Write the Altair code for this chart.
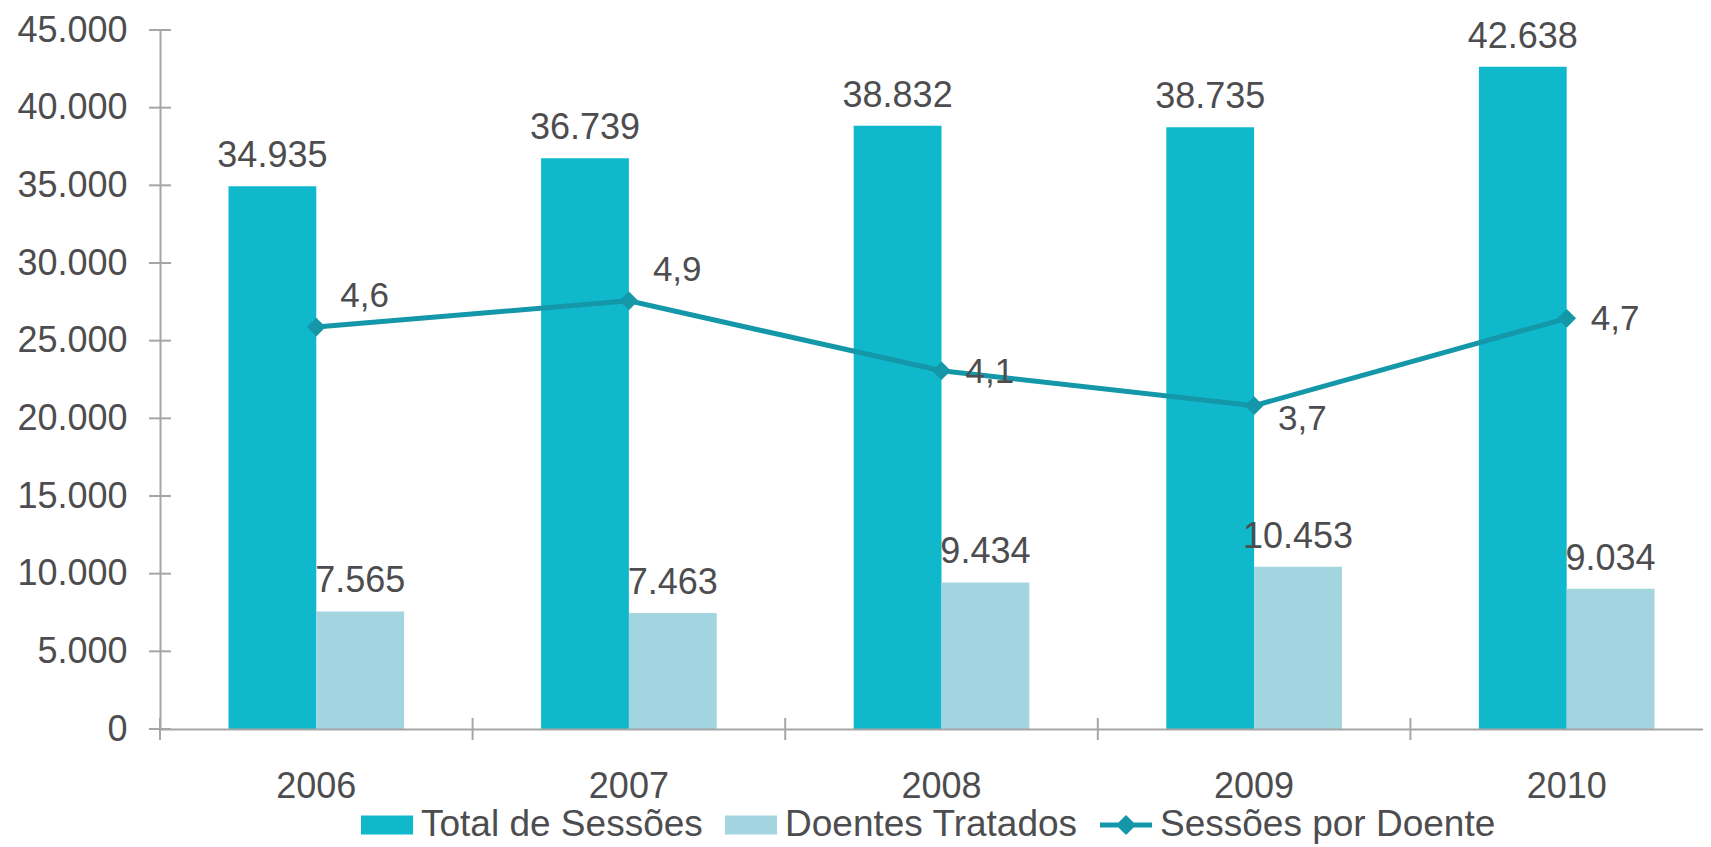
import altair as alt
import pandas as pd

# ---- data ----
years = ["2006", "2007", "2008", "2009", "2010"]
total_sessoes = [34935, 36739, 38832, 38735, 42638]
doentes_tratados = [7565, 7463, 9434, 10453, 9034]
sessoes_por_doente = [4.6, 4.9, 4.1, 3.7, 4.7]
series_names = ["Total de Sessões", "Doentes Tratados", "Sessões por Doente"]
y_tick_values = [0, 5000, 10000, 15000, 20000, 25000, 30000, 35000, 40000, 45000]

bars_df = pd.DataFrame({
    "year": years + years,
    "series": [series_names[0]] * len(years) + [series_names[1]] * len(years),
    "value": total_sessoes + doentes_tratados,
})
line_df = pd.DataFrame({"year": years, "series": series_names[2], "value": sessoes_por_doente})
legend_df = pd.DataFrame({"series": series_names})
ytick_df = pd.DataFrame({"v": y_tick_values})
xtick_df = pd.DataFrame({"year": years})

# ---- styles ----
FONT = "Liberation Sans"
TEXT = "#4D4D4F"
AXIS = "#A6A6A6"
DARK = "#10B8CC"
LIGHT = "#A3D5E0"
LINE = "#1497A8"
W, H = 1543, 699

xscale = alt.Scale(domain=years, range=[0, 1563], paddingInner=0, paddingOuter=0)
xaxis = alt.Axis(labelFontSize=36, labelFont=FONT, labelColor=TEXT, labelPadding=40,
                 ticks=False, tickSize=0, domainColor=AXIS, domainWidth=2, labelAngle=0,
                 zindex=1, grid=False)
X = alt.X("year:N", scale=xscale, axis=xaxis, title=None)

yscale = alt.Scale(domain=[0, 45000], nice=False, zero=True)
yaxis = alt.Axis(values=y_tick_values, format=",.0f", labelFontSize=36, labelFont=FONT,
                 labelColor=TEXT, labelPadding=33, ticks=False, tickSize=0,
                 domainColor=AXIS, domainWidth=2, grid=False, zindex=1)
Ybar = alt.Y("value:Q", scale=yscale, axis=yaxis, title=None)
Yline = alt.Y("value:Q", scale=alt.Scale(domain=[0, 8], nice=False), axis=None, title=None)

color_scale = alt.Scale(domain=series_names, range=[DARK, LIGHT, LINE])
rect_path = "M-1,-0.5H1.74V0.5H-1Z"
line_path = ("M-1,-0.13H-0.03L0.37,-0.53L0.77,-0.13H1.74V0.13H0.77L0.37,0.53"
             "L-0.03,0.13H-1Z")
shape_scale = alt.Scale(domain=series_names, range=[rect_path, rect_path, line_path])

xoff = alt.XOffset("series:N", scale=alt.Scale(domain=series_names[:2], paddingInner=0,
                                                paddingOuter=0.78))

leg = alt.Legend(orient="none", legendX=201, legendY=776, direction="horizontal",
                 columns=3, title=None, labelFontSize=37, labelFont=FONT,
                 labelColor=TEXT, symbolSize=1444, symbolStrokeWidth=0,
                 symbolOpacity=1, labelOffset=22, columnPadding=22, labelLimit=600,
                 padding=0)

bars = alt.Chart(bars_df).mark_bar().encode(
    x=X, xOffset=xoff, y=Ybar,
    color=alt.Color("series:N", scale=color_scale, legend=leg),
)
bar_labels = alt.Chart(bars_df).mark_text(
    baseline="alphabetic", dy=-19, fontSize=36, font=FONT, color=TEXT
).encode(x=X, xOffset=xoff, y=Ybar, text=alt.Text("value:Q", format=",.0f"))

ytick_rules = alt.Chart(ytick_df).mark_rule(color=AXIS, strokeWidth=2).encode(
    y=alt.Y("v:Q", scale=yscale, axis=yaxis, title=None),
    x=alt.value(-11), x2=alt.value(11),
)
xtick_rules = alt.Chart(xtick_df).mark_rule(color=AXIS, strokeWidth=2).encode(
    x=alt.X("year:N", scale=xscale, axis=xaxis, title=None, bandPosition=0),
    y=alt.value(H - 11), y2=alt.value(H + 11),
)

legend_helper = alt.Chart(legend_df).mark_point(filled=True, opacity=0).encode(
    color=alt.Color("series:N", scale=color_scale, legend=leg),
    shape=alt.Shape("series:N", scale=shape_scale, legend=leg),
)

line = alt.Chart(line_df).mark_line(color=LINE, strokeWidth=5).encode(x=X, y=Yline)
points = alt.Chart(line_df).mark_point(filled=True, shape="diamond", size=350,
                                       color=LINE, opacity=1).encode(x=X, y=Yline)


def line_label(years_sel, dy):
    return alt.Chart(line_df).transform_filter(
        alt.FieldOneOfPredicate(field="year", oneOf=years_sel)
    ).mark_text(align="left", baseline="middle", dx=24, dy=dy, fontSize=35,
                font=FONT, color=TEXT).encode(
        x=X, y=Yline, text=alt.Text("value:Q", format=".1f"))


lbl_above = line_label(["2006", "2007"], -31)
lbl_level = line_label(["2008", "2010"], 1)
lbl_below = line_label(["2009"], 13)

left = alt.layer(bars, bar_labels, ytick_rules, xtick_rules, legend_helper)
right = alt.layer(line, points, lbl_above, lbl_level, lbl_below)

chart = alt.layer(left, right).resolve_scale(y="independent").properties(
    width=W, height=H,
    autosize=alt.AutoSizeParams(type="none"),
    padding={"left": 152, "top": 22, "right": 0, "bottom": 116},
).configure(
    view=alt.ViewConfig(stroke=None),
    locale=alt.Locale(number=alt.NumberLocale(decimal=",", thousands=".",
                                              grouping=[3], currency=["", " €"])),
)

chart.save("out.html", embed_options={"renderer": "svg", "actions": False})
